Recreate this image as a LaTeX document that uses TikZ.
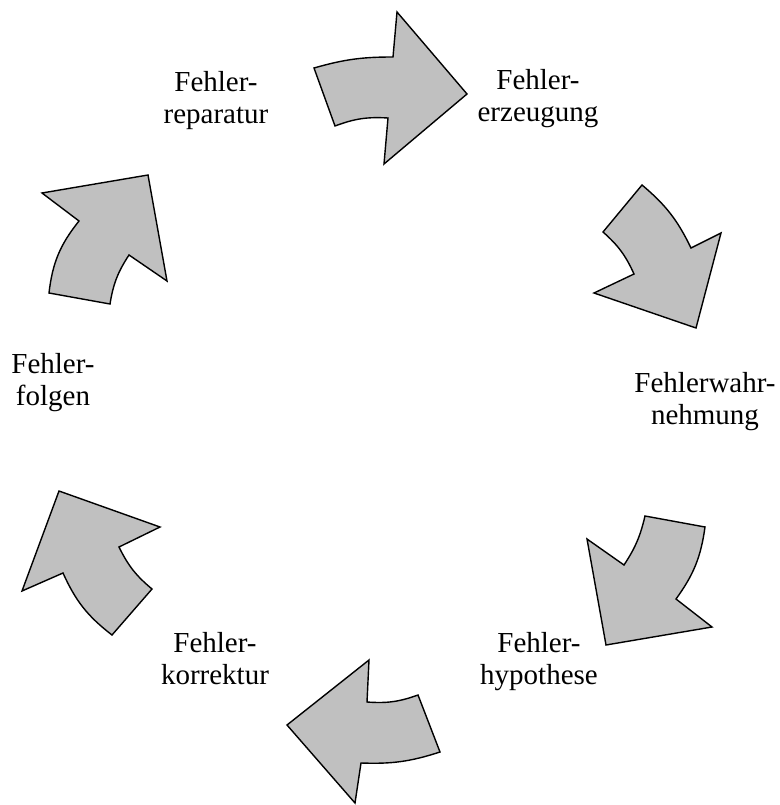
\documentclass[tikz,border=0pt]{standalone}
\usepackage{fontspec}
\setmainfont{Liberation Serif}
\usetikzlibrary{positioning}
\definecolor{arrowgray}{RGB}{192,192,192}

\begin{document}
\begin{tikzpicture}[
		x=1pt,y=-1pt,
		every node/.style={
			align=center,
			inner sep=0pt,
			anchor=north,
			font=\fontsize{29}{32}\selectfont
		},
		blockarrow/.style={
			draw,
			fill=arrowgray,
			line width=1.4pt,
			line join=miter
		}
		]
		
		\useasboundingbox (0,0) rectangle (779,805);
		
		\node
		(rep) at (216,71)
		{Fehler-\\reparatur};
		
		\node
		(erz) at (538,69)
		{Fehler-\\erzeugung};
		
		\node
		(wahr) at (705,372)
		{Fehlerwahr-\\nehmung};
		
		\node
		(hyp) at (539,632)
		{Fehler-\\hypothese};
		
		\node
		(korr) at (215,632)
		{Fehler-\\korrektur};
		
		\node
		(folg) at (53,353)
		{Fehler-\\folgen};
		
		% block arrows round the cycle
		\draw[blockarrow] (314,68) to[bend left=8] (393,57) -- (397,12) -- (467,94)
			-- (384,164) -- (388,118) to[bend right=12] (335,126) -- cycle;
		\draw[blockarrow] (642,185) to[bend left=12] (691,248) -- (721,233) -- (696,328)
			-- (594,293) -- (634,274) to[bend right=12] (603,232) -- cycle;
		\draw[blockarrow] (705,527) to[bend left=14] (676,599) -- (712,627) -- (606,645)
			-- (587,539) -- (624,565) to[bend right=10] (645,516) -- cycle;
		\draw[blockarrow] (440,752) to[bend left=10] (361,763) -- (355,803) -- (287,725)
			-- (369,660) -- (367,702) to[bend right=12] (418,695) -- cycle;
		\draw[blockarrow] (112,635) to[bend left=14] (63,573) -- (22,591) -- (59,491)
			-- (160,527) -- (119,547) to[bend right=12] (152,589) -- cycle;
		\draw[blockarrow] (49,293) to[bend left=16] (79,221) -- (42,193) -- (148,175)
			-- (167,281) -- (129,255) to[bend right=12] (110,304) -- cycle;
		
	\end{tikzpicture}
\end{document}
